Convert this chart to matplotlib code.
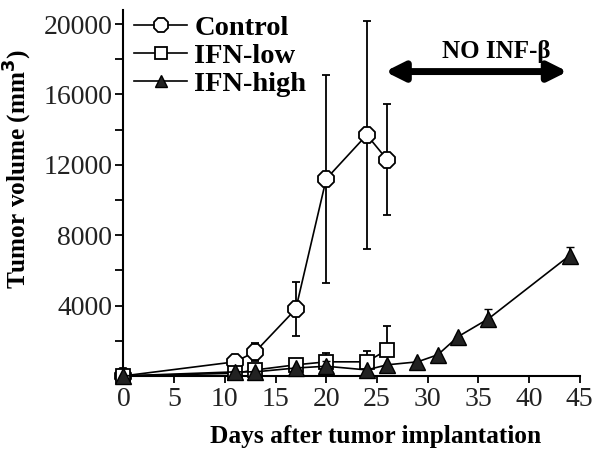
import matplotlib
matplotlib.use('Agg')
import matplotlib.pyplot as plt
from matplotlib.ticker import MultipleLocator

plt.rcParams['font.family'] = ['Liberation Serif', 'DejaVu Serif']

# days after implantation and tumor volumes (mm3)
days_ctrl = [0, 11, 13, 17, 20, 24, 26]
ctrl = [0, 800, 1370, 3800, 11200, 13700, 12300]
ctrl_err = [0, 0, 500, 1550, 5900, 6500, 3150]

days_low = [0, 11, 13, 17, 20, 24, 26]
low = [0, 150, 340, 630, 800, 800, 1480]
low_err = [0, 0, 0, 200, 500, 630, 1370]

days_high = [0, 11, 13, 17, 20, 24, 26, 29, 31, 33, 36, 44]
high = [0, 230, 230, 450, 550, 340, 630, 800, 1200, 2230, 3250, 6840]
high_err = [0, 0, 0, 0, 300, 0, 0, 0, 0, 0, 550, 500]

x_ticks = [0, 5, 10, 15, 20, 25, 30, 35, 40, 45]
y_ticks = [4000, 8000, 12000, 16000, 20000]

fig = plt.figure(figsize=(6.02, 4.54), dpi=100)
ax = fig.add_axes([0.205, 0.172, 0.758, 0.806])

common = dict(color='black', lw=1.2, ecolor='black', elinewidth=1.3,
              capsize=3, capthick=1.3, clip_on=False)
c = ax.errorbar(days_ctrl, ctrl, yerr=ctrl_err, marker='8', ms=12, mfc='white',
                mec='black', mew=1.3, zorder=3, **common)
l = ax.errorbar(days_low, low, yerr=[[0] * len(low_err), low_err], marker='s', ms=10,
                mfc='white', mec='black', mew=1.3, zorder=4, **common)
h = ax.errorbar(days_high, high, yerr=[[0] * len(high_err), high_err], marker='^', ms=11,
                mfc='#222222', mec='black', mew=1.0, zorder=5, **common)

ax.set_xlim(0, 45)
ax.set_ylim(0, 20800)
ax.set_xticks(x_ticks)
ax.set_yticks(y_ticks)
ax.yaxis.set_minor_locator(MultipleLocator(2000))
ax.tick_params(axis='both', which='both', direction='out', width=1.3, colors='black',
               labelcolor='#222222', labelsize=20)
ax.tick_params(axis='y', which='both', length=6, pad=2)
ax.tick_params(axis='x', length=5, pad=3)
for s in ['top', 'right']:
    ax.spines[s].set_visible(False)
for s in ['left', 'bottom']:
    ax.spines[s].set_linewidth(1.5)

ax.set_xlabel('Days after tumor implantation', fontsize=18.3, fontweight='bold', labelpad=9)
ax.xaxis.set_label_coords(0.553, -0.135)
ax.set_ylabel('Tumor volume (mm$^\\mathbf{3}$)', fontsize=18.2, fontweight='bold')
ax.yaxis.set_label_coords(-0.196, 0.566)

ax.annotate('', xy=(25.8, 17300), xytext=(43.8, 17300),
            arrowprops=dict(arrowstyle='<|-|>', lw=5, color='black',
                            mutation_scale=28, shrinkA=0, shrinkB=0))
ax.text(36.8, 18450, 'NO INF-β', ha='center', va='center', fontsize=18, fontweight='bold')

ax.legend([c[0], l[0], h[0]], ['Control', 'IFN-low', 'IFN-high'],
          loc='upper left', bbox_to_anchor=(-0.001, 1.018), frameon=False,
          prop={'size': 20.5, 'weight': 'bold'}, handlelength=1.86, handletextpad=0.25,
          labelspacing=0.07, borderaxespad=0, markerscale=0.85)

fig.savefig('out.png', dpi=100)
